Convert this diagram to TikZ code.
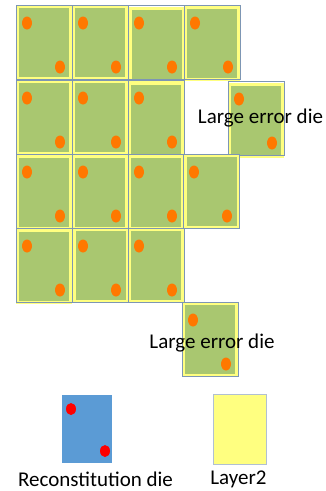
\documentclass[tikz,border=0pt]{standalone}
\usepackage{fontspec}
\setmainfont{Carlito}
\definecolor{dgreen}{RGB}{169,199,112}
\definecolor{dyellow}{RGB}{255,255,128}
\definecolor{dorange}{RGB}{255,120,0}
\definecolor{dline}{RGB}{125,150,180}
\definecolor{lblue}{RGB}{91,155,213}
\definecolor{lyellow}{RGB}{255,255,128}
\tikzset{
  layerbox/.style={fill=dyellow, draw=none},
  greenbox/.style={fill=dgreen, draw=none},
  dieline/.style={draw=dline, line width=0.7pt},
  odot/.style={fill=dorange, draw=none},
  rdot/.style={fill=red, draw=none},
  lbl/.style={font=\fontsize{21}{24}\selectfont, inner sep=0pt, text=black}
}
\begin{document}
\begin{tikzpicture}[x=1pt,y=-1pt]
\useasboundingbox (0,0) rectangle (325,491);
% dies: x, y (blue outline pos), yellow dx, dy
\foreach \x/\y/\dx/\dy in {
  16/5/0/0, 72/5/0/0, 128/5/1/2, 184/5/0/1,
  16/80/0/0, 72/80/0/0, 128/80/0/2, 228/81/0/2,
  16/154/0/1, 72/154/0/1, 128/154/0/1, 183/154/1/0,
  16/228/0/1, 72/228/1/0, 128/228/0/0,
  182/302/0/0}{
  \fill[layerbox] (\x+\dx,\y+\dy) rectangle ++(56,75);
  \fill[greenbox] (\x+\dx+3,\y+\dy+3) rectangle ++(50,69);
  \draw[dieline] (\x,\y) rectangle ++(56,74);
  \fill[odot] (\x+11,\y+18) ellipse [x radius=5, y radius=6.5];
  \fill[odot] (\x+44,\y+62) ellipse [x radius=5, y radius=6.5];
}
\node[lbl] (err1) at (260.5,118) {Large error die};
\node[lbl] (err2) at (212,343) {Large error die};
% legend
\fill[lblue] (62,395) rectangle (112,463);
\fill[rdot] (71,409) ellipse [x radius=5, y radius=6];
\fill[rdot] (105,451) ellipse [x radius=5, y radius=6];
\fill[lyellow, draw=dline!60, line width=0.5pt] (213,394) rectangle (266,464);
\node[lbl] (recon) at (95.5,479) {Reconstitution die};
\node[lbl] (layer) at (238.5,479) {Layer2};
\end{tikzpicture}
\end{document}
